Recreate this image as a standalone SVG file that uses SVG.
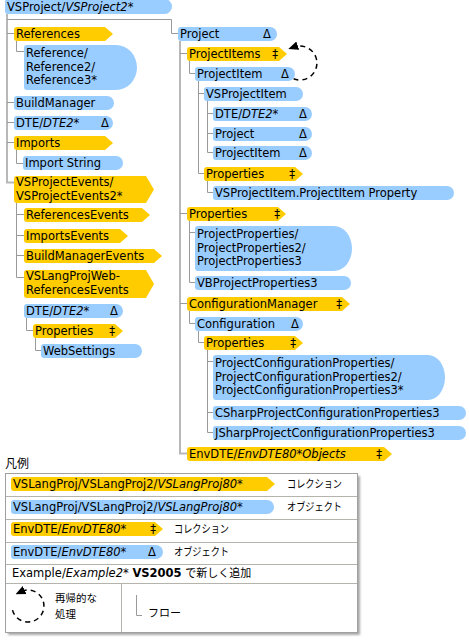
<svg xmlns="http://www.w3.org/2000/svg" width="469" height="642" viewBox="0 0 469 642">
<style>
.b{fill:#99CCFF}
.y{fill:#FFCC00}
.t{font-family:"DejaVu Sans",Verdana,sans-serif;font-size:11.5px;fill:#000}
.i{font-style:italic}
.bd{font-weight:bold}
.m{text-anchor:middle}
.j{font-family:"Noto Sans CJK JP",sans-serif;font-size:11px;fill:#000}
.c{stroke:#9A9A9A;stroke-width:1;fill:none}
.tr{stroke:#B8B8B8;stroke-width:2;fill:none}
.rc{stroke:#000;stroke-width:1.5;stroke-dasharray:5 4;fill:none}
.dv{stroke:#B4B4AC;stroke-width:1;fill:none}
</style>
<defs>
<marker id="ah" markerUnits="userSpaceOnUse" markerWidth="10" markerHeight="10" viewBox="0 0 8 8" refX="3" refY="4" orient="auto">
<path d="M0,0.5 L8,4 L0,7.5 Z" fill="#000"/>
</marker>
<filter id="sh" x="-5%" y="-5%" width="115%" height="115%"><feGaussianBlur stdDeviation="1.2"/></filter>
</defs>

<g id="connectors">
<path class="tr" d="M7,14 V182.5 H14"/>
<path class="c" d="M7,19.5 H171.5 V33.5 H178"/>
<path class="c" d="M7,33.5 H14 M7,102.5 H14 M7,122.5 H14 M7,142.5 H14"/>
<path class="c" d="M16.5,41 V51.5 H24"/>
<path class="c" d="M16.5,150 V163.5 H23"/>
<path class="c" d="M16.5,203 V277.5 H24 M16.5,214.5 H24 M16.5,235.5 H24 M16.5,255.5 H24"/>
<path class="c" d="M26.5,318 V330.5 H33"/>
<path class="c" d="M35.5,338 V350.5 H41"/>
<path class="tr" d="M180,41 V453.5 H187"/>
<path class="c" d="M180,53.5 H187 M180,213.5 H187 M180,303.5 H187"/>
<path class="c" d="M189.5,61 V73.5 H195"/>
<path class="c" d="M198.5,81 V173.5 H204 M198.5,93.5 H204"/>
<path class="c" d="M207.5,101 V152.5 H213 M207.5,113.5 H213 M207.5,133.5 H213"/>
<path class="c" d="M207.5,181 V192.5 H213"/>
<path class="c" d="M189.5,221 V282.5 H195 M189.5,232.5 H195"/>
<path class="c" d="M189.5,311 V323.5 H195"/>
<path class="c" d="M198.5,331 V342.5 H204"/>
<path class="c" d="M207.5,350 V432.5 H213 M207.5,361.5 H213 M207.5,412.5 H213"/>
<path class="rc" marker-end="url(#ah)" d="M293.6,78.8 A17,17 0 1 0 294.2,47"/>
</g>

<g id="n-root"><path class="b" d="M8,-1 H164.5 A7.5,7.5 0 0 1 164.5,14 H8 A3,3 0 0 1 5,11 V2 A3,3 0 0 1 8,-1 Z"/><text class="t" x="7" y="11">VSProject/<tspan class="i">VSProject2*</tspan></text></g>
<g id="n-references"><path class="y" d="M17,27 H105 L113,34 L105,41 H17 A3,3 0 0 1 14,38 V30 A3,3 0 0 1 17,27 Z"/><text class="t" x="16" y="37.5">References</text></g>
<g id="n-reference"><path class="b" d="M27,45 H116 A21,22.5 0 0 1 116,90 H27 A3,3 0 0 1 24,87 V48 A3,3 0 0 1 27,45 Z"/><text class="t" x="26" y="57.3">Reference/</text><text class="t" x="26" y="70.8">Reference2/</text><text class="t" x="26" y="84.3">Reference3*</text></g>
<g id="n-buildmanager"><path class="b" d="M17,96 H107 A7,7 0 0 1 107,110 H17 A3,3 0 0 1 14,107 V99 A3,3 0 0 1 17,96 Z"/><text class="t" x="16" y="106.5">BuildManager</text></g>
<g id="n-dte1"><path class="b" d="M17,116 H106 A7,7 0 0 1 106,130 H17 A3,3 0 0 1 14,127 V119 A3,3 0 0 1 17,116 Z"/><text class="t" x="16" y="126.5">DTE/<tspan class="i">DTE2*</tspan></text><text class="t m" x="105" y="126.5">Δ</text></g>
<g id="n-imports"><path class="y" d="M17,136 H105 L113,143 L105,150 H17 A3,3 0 0 1 14,147 V139 A3,3 0 0 1 17,136 Z"/><text class="t" x="16" y="146.5">Imports</text></g>
<g id="n-importstring"><path class="b" d="M26,156 H116 A7,7 0 0 1 116,170 H26 A3,3 0 0 1 23,167 V159 A3,3 0 0 1 26,156 Z"/><text class="t" x="25" y="166.5">Import String</text></g>
<g id="n-vsprojectevents"><path class="y" d="M17,176 H146 L154,189.5 L146,203 H17 A3,3 0 0 1 14,200 V179 A3,3 0 0 1 17,176 Z"/><text class="t" x="16" y="186.3">VSProjectEvents/</text><text class="t" x="16" y="199.6">VSProjectEvents2*</text></g>
<g id="n-referencesevents"><path class="y" d="M27,208 H142 L150,215 L142,222 H27 A3,3 0 0 1 24,219 V211 A3,3 0 0 1 27,208 Z"/><text class="t" x="26" y="218.5">ReferencesEvents</text></g>
<g id="n-importsevents"><path class="y" d="M27,229 H120 L128,236 L120,243 H27 A3,3 0 0 1 24,240 V232 A3,3 0 0 1 27,229 Z"/><text class="t" x="26" y="239.5">ImportsEvents</text></g>
<g id="n-buildmanagerevents"><path class="y" d="M27,249 H154 L162,256 L154,263 H27 A3,3 0 0 1 24,260 V252 A3,3 0 0 1 27,249 Z"/><text class="t" x="26" y="259.5">BuildManagerEvents</text></g>
<g id="n-weberefevents"><path class="y" d="M27,270 H146 L154,284 L146,298 H27 A3,3 0 0 1 24,295 V273 A3,3 0 0 1 27,270 Z"/><text class="t" x="26" y="280">VSLangProjWeb-</text><text class="t" x="26" y="293.5">ReferencesEvents</text></g>
<g id="n-dte2"><path class="b" d="M27,304 H116 A7,7 0 0 1 116,318 H27 A3,3 0 0 1 24,315 V307 A3,3 0 0 1 27,304 Z"/><text class="t" x="26" y="314.5">DTE/<tspan class="i">DTE2*</tspan></text><text class="t m" x="114" y="314.5">Δ</text></g>
<g id="n-properties1"><path class="y" d="M36,324 H115 L123,331 L115,338 H36 A3,3 0 0 1 33,335 V327 A3,3 0 0 1 36,324 Z"/><text class="t" x="35" y="334.5">Properties</text><text class="t m" x="112" y="334.5">‡</text></g>
<g id="n-websettings"><path class="b" d="M44,344 H135 A7,7 0 0 1 135,358 H44 A3,3 0 0 1 41,355 V347 A3,3 0 0 1 44,344 Z"/><text class="t" x="43" y="354.5">WebSettings</text></g>

<g id="n-project"><path class="b" d="M181,27 H270 A7,7 0 0 1 270,41 H181 A3,3 0 0 1 178,38 V30 A3,3 0 0 1 181,27 Z"/><text class="t" x="180" y="37.5">Project</text><text class="t m" x="267" y="37.5">Δ</text></g>
<g id="n-projectitems"><path class="y" d="M190,47 H279 L287,54 L279,61 H190 A3,3 0 0 1 187,58 V50 A3,3 0 0 1 190,47 Z"/><text class="t" x="189" y="57.5">ProjectItems</text><text class="t m" x="275" y="57.5">‡</text></g>
<g id="n-projectitem"><path class="b" d="M198,67 H288 A7,7 0 0 1 288,81 H198 A3,3 0 0 1 195,78 V70 A3,3 0 0 1 198,67 Z"/><text class="t" x="197" y="77.5">ProjectItem</text><text class="t m" x="285" y="77.5">Δ</text></g>
<g id="n-vsprojectitem"><path class="b" d="M207,87 H296 A7,7 0 0 1 296,101 H207 A3,3 0 0 1 204,98 V90 A3,3 0 0 1 207,87 Z"/><text class="t" x="206" y="97.5">VSProjectItem</text></g>
<g id="n-dte3"><path class="b" d="M216,107 H305 A7,7 0 0 1 305,121 H216 A3,3 0 0 1 213,118 V110 A3,3 0 0 1 216,107 Z"/><text class="t" x="215" y="117.5">DTE/<tspan class="i">DTE2*</tspan></text><text class="t m" x="303" y="117.5">Δ</text></g>
<g id="n-project2"><path class="b" d="M216,127 H305 A7,7 0 0 1 305,141 H216 A3,3 0 0 1 213,138 V130 A3,3 0 0 1 216,127 Z"/><text class="t" x="215" y="137.5">Project</text><text class="t m" x="303" y="137.5">Δ</text></g>
<g id="n-projectitem2"><path class="b" d="M216,146 H305 A7,7 0 0 1 305,160 H216 A3,3 0 0 1 213,157 V149 A3,3 0 0 1 216,146 Z"/><text class="t" x="215" y="156.5">ProjectItem</text><text class="t m" x="303" y="156.5">Δ</text></g>
<g id="n-properties2"><path class="y" d="M207,167 H295 L303,174 L295,181 H207 A3,3 0 0 1 204,178 V170 A3,3 0 0 1 207,167 Z"/><text class="t" x="206" y="177.5">Properties</text><text class="t m" x="292" y="177.5">‡</text></g>
<g id="n-vspiproperty"><path class="b" d="M216,186 H447 A7,7 0 0 1 447,200 H216 A3,3 0 0 1 213,197 V189 A3,3 0 0 1 216,186 Z"/><text class="t" x="215" y="196.5">VSProjectItem.ProjectItem Property</text></g>
<g id="n-properties3"><path class="y" d="M190,207 H278 L286,214 L278,221 H190 A3,3 0 0 1 187,218 V210 A3,3 0 0 1 190,207 Z"/><text class="t" x="189" y="217.5">Properties</text><text class="t m" x="277" y="217.5">‡</text></g>
<g id="n-projectproperties"><path class="b" d="M198,226 H334 A18,22.5 0 0 1 334,271 H198 A3,3 0 0 1 195,268 V229 A3,3 0 0 1 198,226 Z"/><text class="t" x="197" y="238.3">ProjectProperties/</text><text class="t" x="197" y="251.8">ProjectProperties2/</text><text class="t" x="197" y="265.3">ProjectProperties3</text></g>
<g id="n-vbprojectproperties3"><path class="b" d="M198,276 H344 A7,7 0 0 1 344,290 H198 A3,3 0 0 1 195,287 V279 A3,3 0 0 1 198,276 Z"/><text class="t" x="197" y="286.5">VBProjectProperties3</text></g>
<g id="n-configurationmanager"><path class="y" d="M190,297 H342 L350,304 L342,311 H190 A3,3 0 0 1 187,308 V300 A3,3 0 0 1 190,297 Z"/><text class="t" x="189" y="307.5">ConfigurationManager</text><text class="t m" x="339" y="307.5">‡</text></g>
<g id="n-configuration"><path class="b" d="M198,317 H296 A7,7 0 0 1 296,331 H198 A3,3 0 0 1 195,328 V320 A3,3 0 0 1 198,317 Z"/><text class="t" x="197" y="327.5">Configuration</text><text class="t m" x="295" y="327.5">Δ</text></g>
<g id="n-properties4"><path class="y" d="M207,336 H295 L303,343 L295,350 H207 A3,3 0 0 1 204,347 V339 A3,3 0 0 1 207,336 Z"/><text class="t" x="206" y="346.5">Properties</text><text class="t m" x="293" y="346.5">‡</text></g>
<g id="n-projconfigprops"><path class="b" d="M216,355 H428 A17,22.5 0 0 1 428,400 H216 A3,3 0 0 1 213,397 V358 A3,3 0 0 1 216,355 Z"/><text class="t" x="215" y="367">ProjectConfigurationProperties/</text><text class="t" x="215" y="380.5">ProjectConfigurationProperties2/</text><text class="t" x="215" y="394">ProjectConfigurationProperties3*</text></g>
<g id="n-csharp"><path class="b" d="M216,406 H459 A7,7 0 0 1 459,420 H216 A3,3 0 0 1 213,417 V409 A3,3 0 0 1 216,406 Z"/><text class="t" x="215" y="416.5">CSharpProjectConfigurationProperties3</text></g>
<g id="n-jsharp"><path class="b" d="M216,426 H459 A7,7 0 0 1 459,440 H216 A3,3 0 0 1 213,437 V429 A3,3 0 0 1 216,426 Z"/><text class="t" x="215" y="436.5">JSharpProjectConfigurationProperties3</text></g>
<g id="n-envdteobjects"><path class="y" d="M190,447 H384 L392,454 L384,461 H190 A3,3 0 0 1 187,458 V450 A3,3 0 0 1 190,447 Z"/><text class="t" x="189" y="457.5">EnvDTE/<tspan class="i">EnvDTE80*Objects</tspan></text><text class="t m" x="379" y="457.5">‡</text></g>

<g id="legend">
<text class="j" x="5" y="468" style="font-size:12px">凡例</text>
<rect x="8" y="476" width="352" height="159" fill="#A8A8A8" filter="url(#sh)"/>
<rect x="5.5" y="473.5" width="352" height="159" fill="#FFFFFF" stroke="#A0A0A0"/>
<path class="dv" d="M6,496.5 H357 M6,519.5 H357 M6,542.5 H357 M6,564.5 H357 M6,583.5 H357 M121.5,584 V632"/>
<path class="y" d="M14,477 H267 L275,484 L267,491 H14 A3,3 0 0 1 11,488 V480 A3,3 0 0 1 14,477 Z"/>
<text class="t" x="13" y="487.5">VSLangProj/VSLangProj2/<tspan class="i">VSLangProj80*</tspan></text>
<text class="j" x="287" y="488" textLength="55" lengthAdjust="spacingAndGlyphs">コレクション</text>
<path class="b" d="M14,500 H267 A7,7 0 0 1 267,514 H14 A3,3 0 0 1 11,511 V503 A3,3 0 0 1 14,500 Z"/>
<text class="t" x="13" y="510.5">VSLangProj/VSLangProj2/<tspan class="i">VSLangProj80*</tspan></text>
<text class="j" x="287" y="511" textLength="55" lengthAdjust="spacingAndGlyphs">オブジェクト</text>
<path class="y" d="M14,522 H155 L163,529 L155,536 H14 A3,3 0 0 1 11,533 V525 A3,3 0 0 1 14,522 Z"/>
<text class="t" x="13" y="532.5">EnvDTE/<tspan class="i">EnvDTE80*</tspan></text>
<text class="t m" x="153" y="532.5">‡</text>
<text class="j" x="174" y="533" textLength="55" lengthAdjust="spacingAndGlyphs">コレクション</text>
<path class="b" d="M14,545 H156 A7,7 0 0 1 156,559 H14 A3,3 0 0 1 11,556 V548 A3,3 0 0 1 14,545 Z"/>
<text class="t" x="13" y="555.5">EnvDTE/<tspan class="i">EnvDTE80*</tspan></text>
<text class="t m" x="152" y="555.5">Δ</text>
<text class="j" x="174" y="556" textLength="55" lengthAdjust="spacingAndGlyphs">オブジェクト</text>
<text class="t" x="12" y="577">Example/<tspan class="i">Example2*</tspan> <tspan class="bd">VS2005</tspan> <tspan style="font-family:'Noto Sans CJK JP',sans-serif;font-size:11px">で新しく追加</tspan></text>
<path class="rc" marker-end="url(#ah)" d="M12.5,610.1 A16,16 0 1 0 21.2,591.5"/>
<text class="j" x="55" y="602" style="font-size:10.5px">再帰的な</text>
<text class="j" x="55" y="618" style="font-size:10.5px">処理</text>
<path class="c" d="M136.5,595 V615.5 H142"/>
<text class="j" x="148" y="617">フロー</text>
</g>
</svg>
